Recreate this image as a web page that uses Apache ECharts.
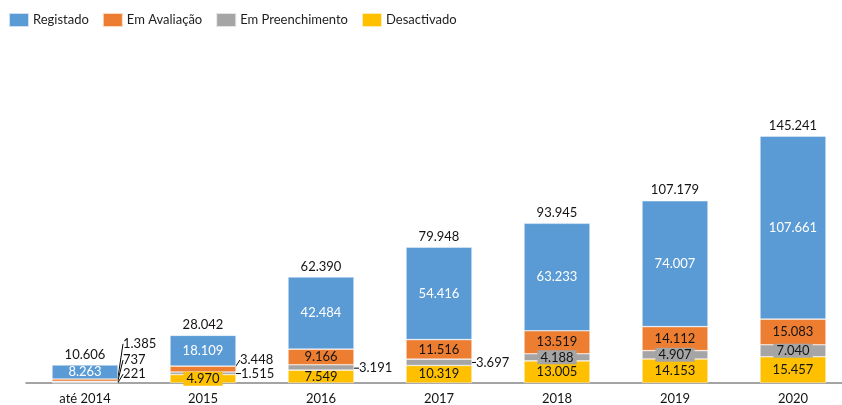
<!DOCTYPE html>
<html>
<head>
<meta charset="utf-8">
<script src="https://cdn.jsdelivr.net/npm/echarts@6/dist/echarts.min.js"></script>
<style>
html,body{margin:0;padding:0;background:#fff;}
#c{width:842px;height:405px;}
</style>
</head>
<body>
<div id="c"></div>
<script>
// ---- data ----
const categories = ['até 2014', '2015', '2016', '2017', '2018', '2019', '2020'];
const registado = [8263, 18109, 42484, 54416, 63233, 74007, 107661];
const emAvaliacao = [1385, 3448, 9166, 11516, 13519, 14112, 15083];
const emPreenchimento = [737, 1515, 3191, 3697, 4188, 4907, 7040];
const desactivado = [221, 4970, 7549, 10319, 13005, 14153, 15457];
const seriesNames = ['Registado', 'Em Avaliação', 'Em Preenchimento', 'Desactivado'];

// ---- styling ----
const FONT = 'Lato, "Noto Sans", sans-serif';
const colors = {
  'Registado': '#5B9BD5',
  'Em Avaliação': '#ED7D31',
  'Em Preenchimento': '#A5A5A5',
  'Desactivado': '#FFC000'
};
const TXT = '#141414';

function fmt(n) {
  return String(n).replace(/\B(?=(\d{3})+(?!\d))/g, '.');
}

const totals = categories.map((_, i) => registado[i] + emAvaliacao[i] + emPreenchimento[i] + desactivado[i]);

// outside labels: [seriesName][dataIndex] -> offset of label centre above the segment bottom, gap to the right
const outside = {
  'Em Avaliação': { 0: { gap: 5, up: 37.5 }, 1: { gap: 4, up: 12 } },
  'Em Preenchimento': { 0: { gap: 5, up: 22.5 }, 1: { gap: 5, up: 1 }, 2: { gap: 5, up: 2 }, 3: { gap: 4, up: 3 } },
  'Desactivado': { 0: { gap: 5, up: 9 } }
};
// labels with a filled box
const boxed = {
  'Em Preenchimento': [4, 5, 6],
  'Desactivado': [1]
};

function buildData(name, values) {
  return values.map((v, i) => {
    const item = { value: v };
    if (outside[name] && outside[name][i]) {
      item.label = { position: 'right', color: TXT };
      item.labelLine = { show: true, lineStyle: { color: '#000', width: 1 } };
    } else if (boxed[name] && boxed[name].indexOf(i) >= 0) {
      item.label = { backgroundColor: colors[name], padding: [1, 3, 0, 3] };
    }
    return item;
  });
}

function makeSeries(name, values, labelColor) {
  return {
    name: name,
    type: 'bar',
    stack: 'total',
    barWidth: 66,
    data: buildData(name, values),
    itemStyle: { color: colors[name], borderColor: 'rgba(255,255,255,0.7)', borderWidth: 0.6 },
    label: {
      show: true,
      position: 'inside',
      color: labelColor,
      fontFamily: FONT,
      fontSize: 13,
      formatter: p => fmt(p.value)
    },
    labelLayout: function (params) {
      const spec = outside[name] && outside[name][params.dataIndex];
      if (!spec) return {};
      const r = params.rect;
      const right = Math.max(r.x, r.x + r.width);
      const bottom = Math.max(r.y, r.y + r.height);
      return {
        x: right + spec.gap,
        y: bottom - spec.up,
        align: 'left',
        verticalAlign: 'middle'
      };
    }
  };
}

const chart = echarts.init(document.getElementById('c'), null, { renderer: 'canvas' });

const option = {
  animation: false,
  backgroundColor: '#fff',
  textStyle: { fontFamily: FONT },
  legend: {
    data: seriesNames,
    left: 8,
    top: 12,
    padding: 0,
    icon: 'rect',
    itemWidth: 20,
    itemHeight: 14,
    itemGap: 13,
    textStyle: { fontFamily: FONT, fontSize: 13, color: '#1e1e1e', padding: [0, 0, 0, -1] }
  },
  grid: { left: 26, top: 111, right: -10, bottom: 22, containLabel: false, outerBoundsMode: 'none' },
  xAxis: {
    type: 'category',
    data: categories,
    axisLine: { show: true, lineStyle: { color: '#868686', width: 1.5 } },
    axisTick: { show: false },
    axisLabel: { fontFamily: FONT, fontSize: 13, color: TXT, margin: 9 }
  },
  yAxis: {
    type: 'value',
    min: 0,
    max: 160000,
    show: false,
    splitLine: { show: false }
  },
  series: [
    makeSeries('Desactivado', desactivado, TXT),
    makeSeries('Em Preenchimento', emPreenchimento, TXT),
    makeSeries('Em Avaliação', emAvaliacao, TXT),
    makeSeries('Registado', registado, '#ffffff'),
    {
      name: 'Total',
      type: 'bar',
      stack: 'total',
      barWidth: 66,
      data: categories.map(() => 0),
      itemStyle: { color: 'transparent' },
      label: {
        show: true,
        position: 'top',
        distance: 4,
        color: TXT,
        fontFamily: FONT,
        fontSize: 13,
        formatter: p => fmt(totals[p.dataIndex])
      }
    }
  ]
};
chart.setOption(option);
</script>
</body>
</html>
